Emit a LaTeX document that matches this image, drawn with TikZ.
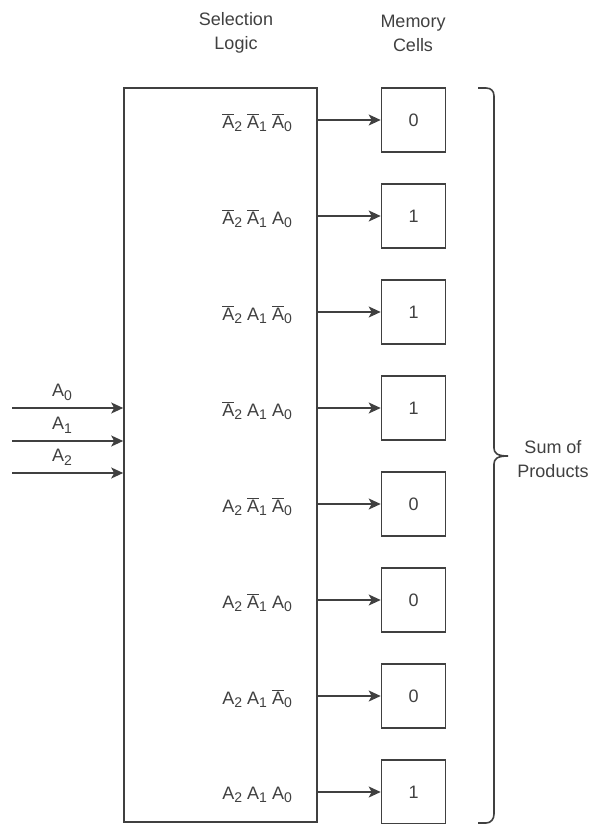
\documentclass[tikz,border=0pt]{standalone}
\usepackage{fontspec}
\setmainfont{Liberation Sans}
\usetikzlibrary{arrows.meta}

\newcommand{\lsub}[1]{\raisebox{-0.35ex}{\fontsize{14}{14}\selectfont #1}}
\newcommand{\lit}[1]{A\lsub{#1}}
\newcommand{\nlit}[1]{$\overline{\hbox{A}}$\lsub{#1}}

\begin{document}
\begin{tikzpicture}[x=1pt, y=-1pt, >={Stealth[length=12pt, width=11pt, inset=3pt]},
	every node/.style={font=\fontsize{18}{24}\selectfont, text=black!75},
	line/.style={draw=black!75, line width=1.6pt},
	cell/.style={line, minimum size=64pt, inner sep=0pt},
	term/.style={anchor=east, inner sep=0pt}]
	\useasboundingbox (0,0) rectangle (590,824);
	\node[align=center] (hsel) at (236,33) {Selection\\Logic};
	\node[align=center] (hmem) at (413,33) {Memory\\Cells};
	\node[line, minimum width=193pt, minimum height=734pt, inner sep=0pt] (logic) at (220.5,455) {};
	\foreach \i/\term/\val in {0/{\nlit2 \nlit1 \nlit0}/0, 1/{\nlit2 \nlit1 \lit0}/1,
		2/{\nlit2 \lit1 \nlit0}/1, 3/{\nlit2 \lit1 \lit0}/1,
		4/{\lit2 \nlit1 \nlit0}/0, 5/{\lit2 \nlit1 \lit0}/0,
		6/{\lit2 \lit1 \nlit0}/0, 7/{\lit2 \lit1 \lit0}/1} {
		\node[cell] (c\i) at (413.5,120+96*\i) {\val};
		\node[term] (t\i) at (292,123+96*\i) {\term};
		\draw[line, ->] (logic.east |- c\i) -- (c\i.west);
	}
	\foreach \j/\y in {0/408, 1/441, 2/473} {
		\coordinate (in\j) at (12,\y);
		\draw[line, ->] (in\j) -- (in\j -| logic.west) node[pos=0.45, above=7pt, inner sep=0pt] {\lit{\j}};
	}
	% brace over the memory cells
	\coordinate (brtip) at (508,456);
	\draw[line] (478,88) -- (486,88) .. controls (491,88) and (494,91) .. (494,96)
		-- (494,448) .. controls (494,453) and (497,456) .. (brtip)
		.. controls (497,456) and (494,459) .. (494,464)
		-- (494,814) .. controls (494,819) and (491,823) .. (486,823) -- (478,823);
	\node[align=center] (sop) at (553,459) {Sum of\\Products};
\end{tikzpicture}
\end{document}
